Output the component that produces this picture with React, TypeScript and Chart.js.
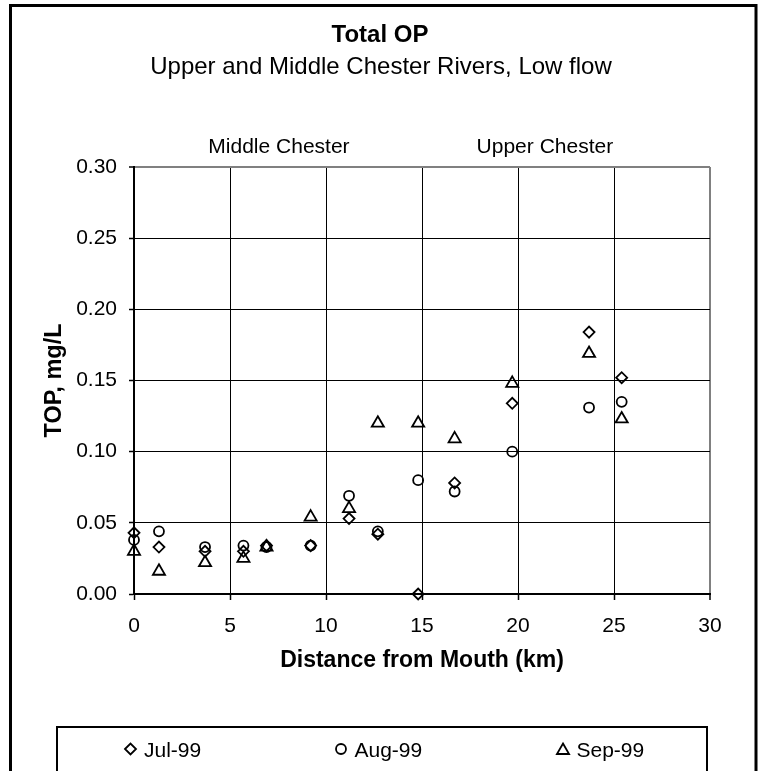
import React, { useEffect, useRef } from 'react';
import { Chart, registerables } from 'chart.js';
import { drawPoint } from 'chart.js/helpers';

Chart.register(...registerables);

// ---- data ----
const distanceKm = [0, 1.3, 3.7, 5.7, 6.9, 9.2, 11.2, 12.7, 14.8, 16.7, 19.7, 23.7, 25.4];
const jul99 = [0.043, 0.033, 0.030, 0.030, 0.034, 0.034, 0.053, 0.042, 0.0, 0.078, 0.134, 0.184, 0.152];
const aug99 = [0.038, 0.044, 0.033, 0.034, 0.033, 0.034, 0.069, 0.044, 0.080, 0.072, 0.100, 0.131, 0.135];
const sep99 = [0.030, 0.016, 0.022, 0.025, 0.033, 0.054, 0.060, 0.120, 0.120, 0.109, 0.148, 0.169, 0.123];
const seriesLabels = ['Jul-99', 'Aug-99', 'Sep-99'];
const regionLabels = ['Middle Chester', 'Upper Chester'];
const regionCenterKm = [7.55, 21.4];
const chartTitle = 'Total OP';
const chartSubtitle = 'Upper and Middle Chester Rivers, Low flow';
const xTitle = 'Distance from Mouth (km)';
const yTitle = 'TOP, mg/L';

const FONT = '"Liberation Sans", Arial, Helvetica, sans-serif';
const W = 761;
const H = 771;

const pointStyles = ['rectRot', 'circle', 'triangle'];
const pointRadii = [5.5, 5, 7];

function toPoints(ys: number[]) {
  return ys.map((y, i) => ({ x: distanceKm[i], y }));
}

const framePlugin = {
  id: 'frame',
  beforeDraw(chart: any) {
    const ctx = chart.ctx;
    ctx.save();
    ctx.fillStyle = '#fff';
    ctx.fillRect(0, 0, W, H);
    ctx.restore();
  },
  afterDraw(chart: any) {
    const ctx = chart.ctx;
    const xs = chart.scales.x;
    ctx.save();
    // outer border
    ctx.strokeStyle = '#000';
    ctx.lineWidth = 3;
    ctx.strokeRect(10.5, 5.5, 745.5, H + 20);

    // titles
    ctx.fillStyle = '#000';
    ctx.textAlign = 'center';
    ctx.textBaseline = 'alphabetic';
    ctx.font = `bold 24px ${FONT}`;
    ctx.fillText(chartTitle, 380, 42);
    ctx.font = `24px ${FONT}`;
    ctx.fillText(chartSubtitle, 381, 74);

    // region labels
    ctx.font = `21px ${FONT}`;
    regionLabels.forEach((t, i) => {
      ctx.fillText(t, xs.getPixelForValue(regionCenterKm[i]), 153);
    });

    // legend box
    ctx.lineWidth = 2;
    ctx.strokeRect(57, 727, 650, 80);
    const itemX = [130.5, 341, 563];
    ctx.font = `21px ${FONT}`;
    ctx.textAlign = 'left';
    chart.data.datasets.forEach((ds: any, i: number) => {
      ctx.fillStyle = '#fff';
      ctx.strokeStyle = '#000';
      ctx.lineWidth = 1.8;
      drawPoint(ctx, {
        pointStyle: pointStyles[i],
        radius: pointRadii[i],
        borderWidth: 1.8,
        rotation: 0,
      } as any, itemX[i], i === 2 ? 750.5 : 749);
      ctx.fillStyle = '#000';
      ctx.fillText(ds.label, itemX[i] + 13.5, 757);
    });
    ctx.restore();
  },
};

export default function App() {
  const ref = useRef<HTMLCanvasElement | null>(null);

  useEffect(() => {
    if (!ref.current) return;
    Chart.defaults.font.family = FONT;
    const datasets = [jul99, aug99, sep99].map((ys, i) => ({
      label: seriesLabels[i],
      data: toPoints(ys),
      showLine: false,
      pointStyle: pointStyles[i],
      pointRadius: pointRadii[i],
      pointBorderWidth: 1.8,
      borderColor: '#000',
      backgroundColor: 'rgba(0,0,0,0)',
      pointBackgroundColor: 'rgba(0,0,0,0)',
      pointBorderColor: '#000',
      clip: false as any,
    }));

    const chart = new Chart(ref.current, {
      type: 'scatter',
      data: { datasets },
      options: {
        responsive: false,
        animation: false,
        devicePixelRatio: 1,
        layout: { padding: { top: 167, right: 51, bottom: 0, left: 0 } },
        plugins: {
          legend: { display: false },
          title: { display: false },
          tooltip: { enabled: false },
        },
        scales: {
          x: {
            type: 'linear',
            min: 0,
            max: 30,
            ticks: {
              stepSize: 5,
              padding: 14,
              color: '#000',
              font: { size: 21, family: FONT },
            },
            grid: {
              color: (c: any) => (c.tick && c.tick.value >= 30 ? '#808080' : '#000'),
              lineWidth: (c: any) => (c.tick && c.tick.value >= 30 ? 2 : 1),
              tickColor: '#000',
              tickLength: 6,
              tickWidth: 1.5,
            },
            border: { color: '#000', width: 2 },
            title: {
              display: true,
              text: xTitle,
              color: '#000',
              font: { size: 23, weight: 'bold', family: FONT },
              padding: { top: 0, bottom: 97 },
            },
            afterFit: (s: any) => {
              s.height = H - 594;
            },
          },
          y: {
            type: 'linear',
            min: 0,
            max: 0.3,
            ticks: {
              stepSize: 0.05,
              padding: 12,
              color: '#000',
              font: { size: 21, family: FONT },
              callback: (v: any) => Number(v).toFixed(2),
            },
            grid: {
              color: (c: any) => (c.tick && c.tick.value >= 0.299 ? '#808080' : '#000'),
              lineWidth: (c: any) => (c.tick && c.tick.value >= 0.299 ? 2 : 1),
              tickColor: '#000',
              tickLength: 5,
              tickWidth: 1.5,
            },
            border: { color: '#000', width: 2 },
            title: {
              display: true,
              text: yTitle,
              color: '#000',
              font: { size: 23.5, weight: 'bold', family: FONT },
              padding: { top: 40, bottom: 0 },
            },
            afterFit: (s: any) => {
              s.width = 134;
            },
          },
        },
      } as any,
      plugins: [framePlugin],
    });
    return () => chart.destroy();
  }, []);

  return (
    <div style={{ position: 'fixed', left: 0, top: 0, width: W, height: H, overflow: 'hidden', background: '#fff' }}>
      <canvas ref={ref} width={W} height={H} style={{ width: W, height: H, display: 'block' }} />
    </div>
  );
}
